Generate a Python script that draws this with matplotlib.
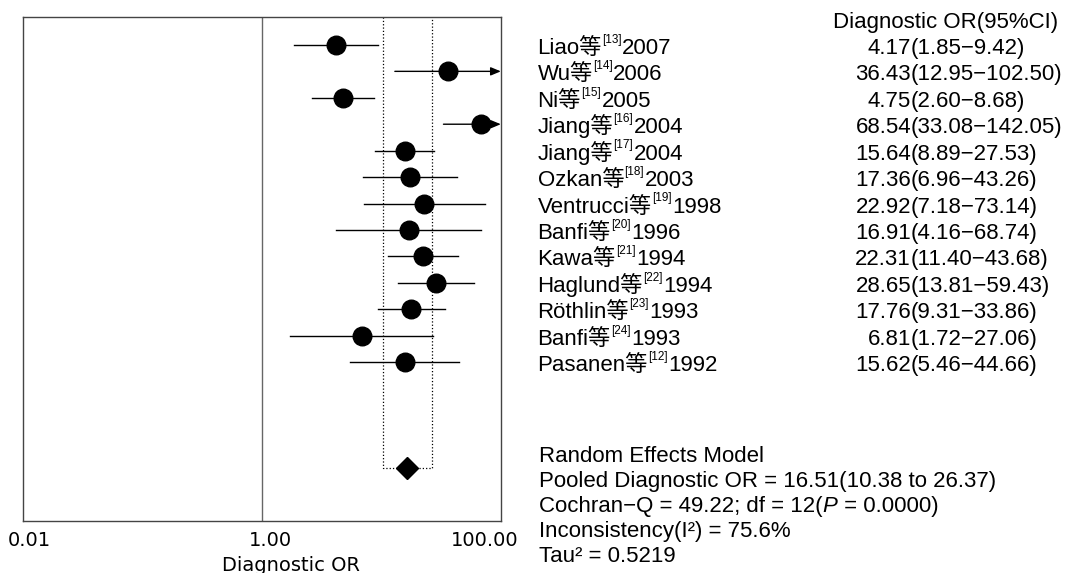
import matplotlib
matplotlib.use("Agg")
import matplotlib.pyplot as plt
import matplotlib.transforms as mtransforms
from matplotlib.ticker import NullLocator
import numpy as np

# данные исследований
studies = ["Liao", "Wu", "Ni", "Jiang", "Jiang", "Ozkan", "Ventrucci", "Banfi",
           "Kawa", "Haglund", "Röthlin", "Banfi", "Pasanen"]
refs = [13, 14, 15, 16, 17, 18, 19, 20, 21, 22, 23, 24, 12]
years = [2007, 2006, 2005, 2004, 2004, 2003, 1998, 1996, 1994, 1994, 1993, 1993, 1992]
dor = [4.17, 36.43, 4.75, 68.54, 15.64, 17.36, 22.92, 16.91, 22.31, 28.65, 17.76, 6.81, 15.62]
ci_low = [1.85, 12.95, 2.60, 33.08, 8.89, 6.96, 7.18, 4.16, 11.40, 13.81, 9.31, 1.72, 5.46]
ci_high = [9.42, 102.50, 8.68, 142.05, 27.53, 43.26, 73.14, 68.74, 43.68, 59.43, 33.86, 27.06, 44.66]

# объединённая оценка
pooled_or = 16.51
pooled_low = 10.38
pooled_high = 26.37

# строки итоговой статистики (нечётные куски - курсивом)
summary_lines = [
    ["Random Effects Model"],
    ["Pooled Diagnostic OR = 16.51(10.38 to 26.37)"],
    ["Cochran\u2212Q = 49.22; df = 12(", "P", " = 0.0000)"],
    ["Inconsistency(I\u00b2) = 75.6%"],
    ["Tau\u00b2 = 0.5219"],
]

x_ticks = [0.01, 1, 100]
x_tick_labels = ["0.01", "1.00", "100.00"]

ft = ['Liberation Sans', 'Noto Sans CJK SC']
frame_color = '#444444'

fig = plt.figure(figsize=(10.66, 5.73), dpi=100)
ax = fig.add_axes([0.0219, 0.0913, 0.4479, 0.8792])
ax.set_xscale('log')
ax.set_xlim(0.01, 100)
ax.set_ylim(18, -1.06)

rows = np.arange(len(studies))
pool_row = len(studies) + 3

# доверительные интервалы
for y, lo, hi in zip(rows, ci_low, ci_high):
    if hi > 100:
        ax.annotate("", xy=(100, y), xytext=(lo, y),
                    arrowprops=dict(arrowstyle='-|>,head_length=0.6,head_width=0.25',
                                    color='black', lw=1, shrinkA=0, shrinkB=0,
                                    mutation_scale=10),
                    annotation_clip=False)
    else:
        ax.plot([lo, hi], [y, y], color='black', lw=1)

ax.plot(dor, rows, 'o', ms=13.4, color='black', zorder=3)
ax.plot([pooled_or], [pool_row], 'D', ms=11, color='black', zorder=3)

# пунктирная рамка объединённого ДИ
top = ax.get_ylim()[1]
ax.plot([pooled_low, pooled_low, pooled_high, pooled_high],
        [top, pool_row, pool_row, top], ls=':', color='black', lw=0.9)

ax.axvline(1, color='#666666', lw=1)

for sp in ax.spines.values():
    sp.set_color(frame_color)
    sp.set_linewidth(1)

ax.set_yticks([])
ax.set_xticks(x_ticks)
ax.set_xticklabels(x_tick_labels, fontsize=14)
ax.xaxis.set_minor_locator(NullLocator())
ax.tick_params(axis='x', length=0, pad=7.5)
for lab, dx in zip(ax.get_xticklabels(), [6, 8, -16]):
    lab.set_transform(lab.get_transform() +
                      mtransforms.ScaledTranslation(dx / 100, 0, fig.dpi_scale_trans))

ax.set_xlabel("Diagnostic OR", fontsize=14)
ax.xaxis.set_label_coords(0.56, -0.07)

# подписи справа
tr = (mtransforms.blended_transform_factory(fig.transFigure, ax.transData) +
      mtransforms.ScaledTranslation(0, -0.091, fig.dpi_scale_trans))

ax.text(0.7817, -1, "Diagnostic OR(95%CI)", transform=tr, va='baseline',
        fontsize=16, family=ft)

for y, name, ref, year, d, lo, hi in zip(rows, studies, refs, years, dor, ci_low, ci_high):
    t = ax.text(0.5043, y, name + "等", transform=tr, va='baseline', fontsize=16, family=ft)
    s = ax.annotate(f"[{ref}]", xy=(1, y), xycoords=(t, tr), xytext=(0, 8.1),
                    textcoords='offset points', va='baseline', fontsize=8.5,
                    family=ft, annotation_clip=False)
    ax.annotate(str(year), xy=(1, y), xycoords=(s, tr), xytext=(0.5, 0),
                textcoords='offset points', va='baseline', fontsize=16,
                family=ft, annotation_clip=False)
    ax.text(0.8546, y, f"{d:.2f}", transform=tr, ha='right', va='baseline',
            fontsize=16, family=ft)
    ax.text(0.8546, y, f"({lo:.2f}\u2212{hi:.2f})", transform=tr, ha='left',
            va='baseline', fontsize=16, family=ft)

# итоговая статистика, по строке через 25 px
y0 = 1 - 461.6 / 573
for k, parts in enumerate(summary_lines):
    line_tr = fig.transFigure + mtransforms.ScaledTranslation(0, -0.25 * k, fig.dpi_scale_trans)
    prev = fig.text(0.5058, y0, parts[0], transform=line_tr, va='baseline',
                    fontsize=16, family=ft)
    for j, part in enumerate(parts[1:], start=1):
        prev = ax.annotate(part, xy=(1, y0), xycoords=(prev, line_tr), va='baseline',
                           fontsize=16, family=ft, style='italic' if j % 2 else 'normal',
                           annotation_clip=False)

fig.savefig('out.png', dpi=100)
